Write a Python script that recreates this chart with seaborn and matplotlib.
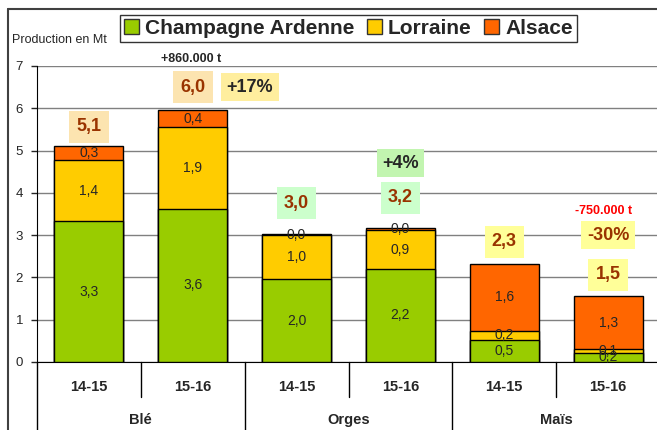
import pandas as pd
import matplotlib.pyplot as plt
import seaborn as sns
from matplotlib.patches import Patch
from matplotlib.lines import Line2D
import matplotlib.transforms as mtransforms

# Données (production en Mt)
cultures = ["Blé", "Blé", "Orges", "Orges", "Maïs", "Maïs"]
campagnes = ["14-15", "15-16", "14-15", "15-16", "14-15", "15-16"]
champagne = [3.33, 3.62, 1.96, 2.20, 0.52, 0.22]
lorraine = [1.45, 1.93, 1.04, 0.92, 0.22, 0.08]
alsace = [0.33, 0.41, 0.02, 0.04, 1.58, 1.26]
totaux = [5.1, 6.0, 3.0, 3.2, 2.3, 1.5]
groupes = ["Blé", "Orges", "Maïs"]

couleurs = {"Champagne Ardenne": "#99CC00", "Lorraine": "#FFCC00", "Alsace": "#FF6600"}

df = pd.DataFrame({"culture": cultures, "campagne": campagnes,
                   "ca": champagne, "lo": lorraine, "al": alsace})
df["cle"] = df["culture"] + " " + df["campagne"]
df["c1"] = df["ca"]
df["c2"] = df["ca"] + df["lo"]
df["c3"] = df["c2"] + df["al"]
ordre = list(df["cle"])

sns.set_style("white")
plt.rcParams["font.family"] = ["Liberation Sans", "DejaVu Sans"]

fig = plt.figure(figsize=(6.57, 4.30), dpi=100)
ax = fig.add_axes([37 / 657, 1 - 362 / 430, 623 / 657, 296 / 430])

# barres empilées : on dessine les cumuls du plus haut au plus bas
for col, nom in [("c3", "Alsace"), ("c2", "Lorraine"), ("c1", "Champagne Ardenne")]:
    sns.barplot(data=df, x="cle", y=col, order=ordre, color=couleurs[nom],
                saturation=1, errorbar=None, width=0.665,
                edgecolor="black", linewidth=1, ax=ax, zorder=3)

def fmt(v):
    return f"{v:.1f}".replace(".", ",")

# étiquettes des segments
for i, r in df.iterrows():
    for bas, h in [(0, r["ca"]), (r["c1"], r["lo"]), (r["c2"], r["al"])]:
        ax.text(i, bas + h / 2, fmt(h), ha="center", va="center", fontsize=10, zorder=5)

# totaux en encadré
fonds = ["#FCE4B0", "#FCE4B0", "#CCFFCC", "#CCFFCC", "#FFFF99", "#FFFF99"]
y_tot = [5.56, 6.50, 3.76, 3.88, 2.84, 2.06]
for i, (t, y, f) in enumerate(zip(totaux, y_tot, fonds)):
    ax.text(i, y, fmt(t), ha="center", va="center", fontsize=13, fontweight="bold",
            color="#993300", zorder=6, clip_on=False,
            bbox=dict(boxstyle="square,pad=0.4", fc=f, ec="none"))

# variations
ax.text(1.55, 6.50, "+17%", ha="center", va="center", fontsize=13, fontweight="bold",
        bbox=dict(boxstyle="square,pad=0.3", fc="#FFEE9E", ec="none"), zorder=6)
ax.text(0.98, 7.16, "+860.000 t", ha="center", va="center", fontsize=9,
        fontweight="bold", clip_on=False)
ax.text(3.0, 4.70, "+4%", ha="center", va="center", fontsize=13, fontweight="bold",
        bbox=dict(boxstyle="square,pad=0.3", fc="#C2F5B0", ec="none"), zorder=6)
ax.text(5.0, 3.0, "-30%", ha="center", va="center", fontsize=13, fontweight="bold",
        color="#993300", bbox=dict(boxstyle="square,pad=0.3", fc="#FFFF99", ec="none"), zorder=6)
ax.text(4.96, 3.57, "-750.000 t", ha="center", va="center", fontsize=9,
        fontweight="bold", color="#FF0000")

# axes
ax.set_ylim(0, 7)
ax.set_xlim(-0.5, 5.5)
ax.set_yticks(range(8))
ax.yaxis.grid(True, color="#808080", lw=1, zorder=0)
ax.set_axisbelow(True)
for s in ["top", "right"]:
    ax.spines[s].set_visible(False)
ax.spines["left"].set_color("black")
ax.spines["bottom"].set_color("black")
ax.spines["left"].set_zorder(4)
ax.tick_params(axis="y", left=True, length=4, width=1, labelsize=9.5, pad=6)
ax.tick_params(axis="x", bottom=False, labelbottom=False)
ax.set_xlabel("")
ax.set_ylabel("")

# étiquettes à deux niveaux sous l'axe
trans = mtransforms.blended_transform_factory(ax.transData, ax.transAxes)
for i, c in enumerate(campagnes):
    ax.text(i, -0.0845, c, transform=trans, ha="center", va="center",
            fontsize=10.5, fontweight="bold")
for k, g in enumerate(groupes):
    ax.text(2 * k + 0.5, -0.196, g, transform=trans, ha="center", va="center",
            fontsize=10.5, fontweight="bold")
    ax.add_line(Line2D([2 * k + 0.5] * 2, [0, -0.118], transform=trans,
                       color="black", lw=1, clip_on=False))
    ax.add_line(Line2D([2 * k - 0.5] * 2, [0, -0.3], transform=trans,
                       color="black", lw=1, clip_on=False))

# titre d'axe et cadre
fig.text(12 / 657, 1 - 40 / 430, "Production en Mt", fontsize=9, va="center", ha="left")
fig.add_artist(Line2D([8 / 657, 8 / 657], [0, 1 - 9 / 430], color="#404040", lw=1.5))
fig.add_artist(Line2D([8 / 657, 1], [1 - 9 / 430] * 2, color="#404040", lw=1.5))

# légende
poignees = [Patch(fc=c, ec="#333333", lw=1, label=n) for n, c in couleurs.items()]
leg = fig.legend(handles=poignees, loc="center", ncol=3,
                 bbox_to_anchor=(348.5 / 657, 1 - 28.5 / 430),
                 prop={"size": 15, "weight": "bold"}, frameon=True, fancybox=False,
                 edgecolor="black", handlelength=0.7, handleheight=0.7,
                 handletextpad=0.3, columnspacing=0.6, borderpad=0.2)
leg.get_frame().set_linewidth(1)

plt.savefig("out.png", dpi=100)
plt.close()
